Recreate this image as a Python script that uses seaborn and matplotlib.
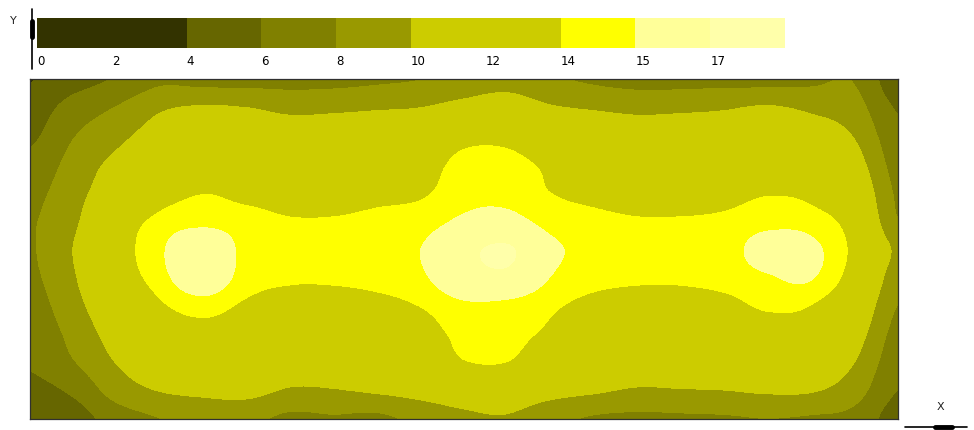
import numpy as np
import matplotlib
matplotlib.use("Agg")
import matplotlib.pyplot as plt
from matplotlib.colors import ListedColormap, BoundaryNorm
from matplotlib.lines import Line2D
import seaborn as sns

# ---- legend levels (illuminance classes) ----
levels = [0, 2, 4, 6, 8, 10, 12, 14, 15, 17, 20]
level_labels = ["0", "2", "4", "6", "8", "10", "12", "14", "15", "17"]
level_colors = ["#333300", "#333300", "#666600", "#808000", "#999900",
                "#cccc00", "#cccc00", "#ffff00", "#ffff99", "#ffffaa"]

# ---- illuminance: one list per grid column (left -> right),
#      each list runs top -> bottom (13 rows) ----
col_01 = [3.9, 4.9, 5.6, 6.6, 7.4, 7.8, 7.8, 7.6, 7.1, 6.6, 6.25, 5.3, 4.3]
col_02 = [5.2, 6.8, 7.9, 8.7, 9.2, 9.6, 10.05, 9.8, 9.3, 8.6, 7.9, 6.4, 5.0]
col_03 = [6.2, 8.1, 9.4, 10.6, 11.5, 12.9, 13.2, 12.9, 11.9, 11.0, 10.1, 8.9, 7.0]
col_04 = [7.6, 9.7, 11.0, 12.2, 13.3, 14.3, 14.8, 14.6, 13.8, 12.8, 11.5, 10.1, 8.0]
col_05 = [7.3, 10.2, 11.6, 12.9, 13.95, 14.6, 16.4, 16.0, 14.5, 13.4, 12.0, 10.5, 8.6]
col_06 = [7.3, 10.0, 11.5, 12.7, 13.6, 14.4, 14.6, 14.5, 13.8, 13.0, 12.0, 10.7, 8.5]
col_07 = [7.3, 9.5, 11.2, 12.4, 13.3, 14.1, 14.6, 14.2, 13.4, 12.5, 11.3, 9.8, 7.6]
col_08 = [7.4, 9.6, 11.3, 12.5, 13.3, 14.1, 14.5, 14.2, 13.4, 12.5, 11.3, 9.9, 7.8]
col_09 = [7.7, 9.8, 11.6, 12.8, 13.6, 14.3, 14.7, 14.4, 13.6, 12.8, 11.7, 10.3, 7.6]
col_10 = [8.0, 10.0, 11.8, 13.0, 13.8, 14.5, 15.0, 14.8, 14.05, 13.3, 12.3, 10.8, 8.6]
col_11 = [8.8, 10.7, 13.2, 14.6, 14.7, 15.2, 16.5, 16.2, 14.8, 14.4, 13.9, 11.5, 9.5]
col_12 = [9.2, 11.2, 13.3, 14.6, 14.7, 15.4, 17.2, 16.6, 14.7, 14.5, 14.0, 11.7, 9.8]
col_13 = [8.3, 10.2, 12.0, 13.6, 14.0, 14.6, 15.3, 15.0, 14.2, 13.7, 12.4, 10.8, 8.6]
col_14 = [7.7, 9.8, 11.6, 12.8, 13.6, 14.3, 14.7, 14.4, 13.6, 12.8, 11.7, 10.3, 7.8]
col_15 = [7.3, 9.5, 11.2, 12.4, 13.3, 14.1, 14.5, 14.2, 13.4, 12.5, 11.3, 9.8, 7.6]
col_16 = [7.3, 9.6, 11.3, 12.5, 13.3, 14.1, 14.5, 14.2, 13.4, 12.5, 11.4, 9.9, 7.7]
col_17 = [7.4, 9.8, 11.4, 12.6, 13.5, 14.2, 14.5, 14.4, 13.6, 12.7, 11.6, 10.0, 7.8]
col_18 = [7.3, 10.2, 11.9, 13.0, 13.9, 14.6, 15.6, 14.9, 14.2, 13.2, 12.0, 10.3, 8.0]
col_19 = [7.6, 9.6, 11.3, 12.6, 13.6, 14.5, 15.3, 15.1, 14.0, 13.0, 11.8, 10.2, 7.8]
col_20 = [7.9, 8.8, 9.9, 11.0, 12.1, 13.1, 13.6, 13.2, 12.2, 11.1, 10.05, 8.9, 7.4]
col_21 = [4.6, 5.8, 6.6, 7.2, 7.7, 8.1, 9.6, 8.9, 8.0, 7.3, 6.7, 6.0, 5.0]

columns = [col_01, col_02, col_03, col_04, col_05, col_06, col_07, col_08,
           col_09, col_10, col_11, col_12, col_13, col_14, col_15, col_16,
           col_17, col_18, col_19, col_20, col_21]
field = np.array(columns, dtype=float).T  # rows = y (top->bottom), cols = x

sns.set_theme(style="white")
plt.rcParams['font.family'] = ['DejaVu Sans']

W, H = 974, 431
fig = plt.figure(figsize=(W / 100, H / 100), dpi=100)
fig.patch.set_facecolor("white")

def fx(px):
    return px / W

def fy(py):
    return 1 - py / H

cmap = ListedColormap(level_colors)
norm = BoundaryNorm(levels, cmap.N)

# ---- main illuminance map ----
ax = fig.add_axes([fx(30), fy(420), fx(898) - fx(30), fy(80) - fy(420)])
nr, nc = field.shape
ax.imshow(field, cmap=cmap, norm=norm, interpolation="catrom",
          interpolation_stage="data", aspect="auto",
          extent=(-0.5, nc - 0.5, nr - 0.5, -0.5))
ax.set_xlim(0, nc - 1)
ax.set_ylim(nr - 1, 0)
ax.set_xticks([])
ax.set_yticks([])
for s in ax.spines.values():
    s.set_visible(True)
    s.set_color("#303030")
    s.set_linewidth(0.9)

# ---- legend strip drawn as a one-row seaborn heatmap ----
cax = fig.add_axes([fx(37), fy(49), fx(785) - fx(37), fy(19) - fy(49)])
strip = np.arange(len(level_colors)).reshape(1, -1)
sns.heatmap(strip, cmap=cmap, vmin=-0.5, vmax=len(level_colors) - 0.5,
            cbar=False, ax=cax, linewidths=0)
cax.set_yticks([])
cax.set_xticks(np.arange(len(level_labels)))
cax.set_xticklabels(level_labels, fontsize=8.5, color="black")
for t in cax.get_xticklabels():
    t.set_ha("left")
cax.tick_params(axis="x", length=0, pad=4, bottom=True)
cax.set_xlabel("")
for s in cax.spines.values():
    s.set_visible(False)

# ---- axis direction indicators ----
fig.text(fx(13), fy(21), "Y", fontsize=8, ha="center", va="center", color="#222222")
fig.add_artist(Line2D([fx(32), fx(32)], [fy(10), fy(70)], color="black", lw=1.2))
fig.add_artist(Line2D([fx(32), fx(32)], [fy(22), fy(38)], color="black", lw=3.5))
fig.text(fx(940), fy(407), "X", fontsize=8, ha="center", va="center", color="#222222")
fig.add_artist(Line2D([fx(905), fx(967)], [fy(428), fy(428)], color="black", lw=1.2))
fig.add_artist(Line2D([fx(935), fx(952)], [fy(428), fy(428)], color="black", lw=3.5))

fig.savefig("out.png", dpi=100, facecolor="white")
